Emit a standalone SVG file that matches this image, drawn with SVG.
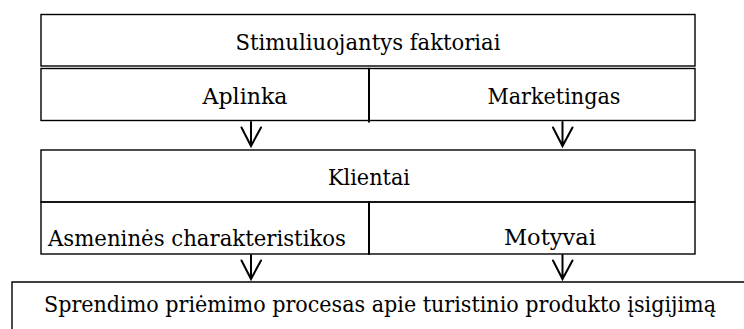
<svg xmlns="http://www.w3.org/2000/svg" width="744" height="329" viewBox="0 0 744 329">
  <style>
    .box { fill: none; stroke: #000; stroke-width: 1.4; }
    .div { stroke: #000; stroke-width: 2; }
    .edge { fill: none; stroke: #000; stroke-width: 2; stroke-linecap: round; stroke-linejoin: miter; }
    .lbl { font-family: 'DejaVu Serif', 'Liberation Serif', serif; font-size: 23px; fill: #000; text-anchor: middle; }
  </style>
  <rect width="744" height="329" fill="#fff"/>

  <g id="stimuliuojantys">
    <rect class="box" x="41" y="14.5" width="654" height="51.5"/>
    <text class="lbl" x="368" y="50" textLength="265" lengthAdjust="spacingAndGlyphs">Stimuliuojantys faktoriai</text>
  </g>

  <g id="aplinka">
    <rect class="box" x="41" y="68.5" width="328" height="52"/>
    <text class="lbl" x="245" y="104" textLength="85" lengthAdjust="spacingAndGlyphs">Aplinka</text>
  </g>

  <g id="marketingas">
    <rect class="box" x="369" y="68.5" width="326" height="52"/>
    <line class="div" x1="369" y1="69" x2="369" y2="122.5"/>
    <text class="lbl" x="554" y="104" textLength="133" lengthAdjust="spacingAndGlyphs">Marketingas</text>
  </g>

  <g id="klientai">
    <rect class="box" x="41" y="150" width="654" height="52"/>
    <text class="lbl" x="369" y="185" textLength="82" lengthAdjust="spacingAndGlyphs">Klientai</text>
  </g>

  <g id="asmenines">
    <rect class="box" x="41" y="202" width="328" height="52"/>
    <text class="lbl" x="197" y="246" textLength="298" lengthAdjust="spacingAndGlyphs">Asmeninės charakteristikos</text>
  </g>

  <g id="motyvai">
    <rect class="box" x="369" y="202" width="326" height="52"/>
    <line class="div" x1="369" y1="202" x2="369" y2="254.5"/>
    <text class="lbl" x="550" y="245" textLength="92" lengthAdjust="spacingAndGlyphs">Motyvai</text>
  </g>

  <g id="sprendimas">
    <path class="box" d="M744 282 H12 V329"/>
    <text class="lbl" x="380" y="312" textLength="672" lengthAdjust="spacingAndGlyphs">Sprendimo priėmimo procesas apie turistinio produkto įsigijimą</text>
  </g>

  <g id="connectors">
    <path class="edge" d="M251 122 V146 M241.5 127.5 L251 146 L261 127.5"/>
    <path class="edge" d="M562.5 122 V146 M553 127.5 L562.5 146 L572.5 127.5"/>
    <path class="edge" d="M251 255 V279 M241.5 260.5 L251 279 L261 260.5"/>
    <path class="edge" d="M562.5 255 V279 M553 260.5 L562.5 279 L572.5 260.5"/>
  </g>
</svg>
